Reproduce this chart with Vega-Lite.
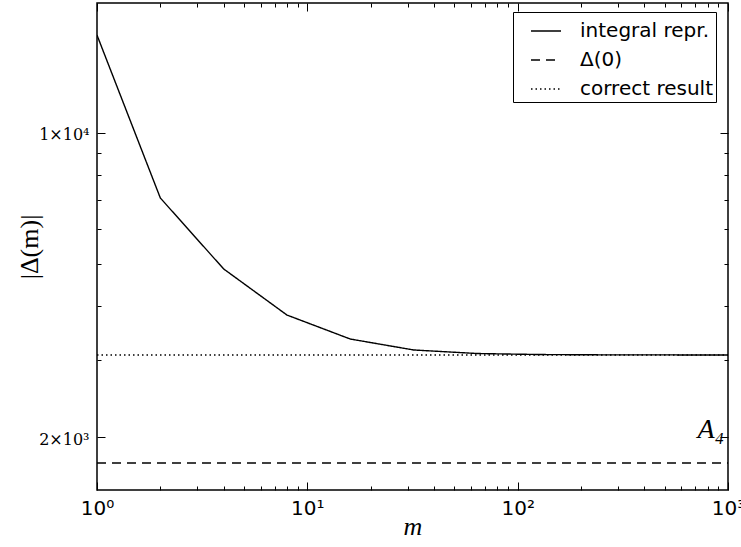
{
 "$schema": "https://vega.github.io/schema/vega-lite/v6.json",
 "width": 631, "height": 487,
 "autosize": {"type": "none"},
 "padding": {"left": 97, "top": 3, "right": 13, "bottom": 57},
 "background": "white",
 "config": {
   "view": {"stroke": "black", "strokeWidth": 1.5},
   "axis": {"domain": false, "grid": false, "tickColor": "black", "tickWidth": 1, "labelColor": "black", "titleColor": "black"}
 },
 "datasets": {
   "lines": [
     {"m": 1, "v": 16790, "series": "integral repr."},
     {"m": 2, "v": 7090, "series": "integral repr."},
     {"m": 4, "v": 4870, "series": "integral repr."},
     {"m": 8, "v": 3815, "series": "integral repr."},
     {"m": 16, "v": 3360, "series": "integral repr."},
     {"m": 32, "v": 3171, "series": "integral repr."},
     {"m": 64, "v": 3112, "series": "integral repr."},
     {"m": 128, "v": 3095, "series": "integral repr."},
     {"m": 256, "v": 3090, "series": "integral repr."},
     {"m": 512, "v": 3089, "series": "integral repr."},
     {"m": 1000, "v": 3088, "series": "integral repr."},
     {"m": 1, "v": 1743, "series": "Δ(0)"},
     {"m": 1000, "v": 1743, "series": "Δ(0)"},
     {"m": 1, "v": 3088, "series": "correct result"},
     {"m": 1000, "v": 3088, "series": "correct result"}
   ],
   "label": [{"m": 960, "v": 2075, "t": "A₄"}]
 },
 "layer": [
   {
     "data": {"name": "lines"},
     "mark": {"type": "line", "color": "black", "strokeWidth": 1.4, "clip": true},
     "encoding": {
       "x": {"field": "m", "type": "quantitative",
         "scale": {"type": "log", "domain": [1, 1000], "nice": false},
         "axis": {"orient": "bottom", "title": "m", "titleFont": "Liberation Serif", "titleFontStyle": "italic", "titleFontWeight": "normal", "titleFontSize": 26, "titlePadding": -9,
           "values": [1,2,3,4,5,6,7,8,9,10,20,30,40,50,60,70,80,90,100,200,300,400,500,600,700,800,900,1000],
           "tickSize": {"condition": {"test": "datum.value==1||datum.value==10||datum.value==100||datum.value==1000", "value": -8}, "value": -4},
           "labelExpr": "datum.value==1?'10⁰':datum.value==10?'10¹':datum.value==100?'10²':datum.value==1000?'10³':''",
           "labelFont": "DejaVu Sans", "labelFontSize": 20, "labelPadding": 16, "labelFlush": false, "labelOverlap": false}},
       "y": {"field": "v", "type": "quantitative",
         "scale": {"type": "log", "domain": [1511, 19900], "nice": false},
         "axis": {"orient": "left", "title": "|Δ(m)|", "titleFont": "Liberation Serif", "titleFontWeight": "normal", "titleFontSize": 26, "titlePadding": -4,
           "values": [2000,3000,4000,5000,6000,7000,8000,9000,10000],
           "tickSize": {"condition": {"test": "datum.value==2000||datum.value==10000", "value": -8}, "value": -4},
           "labelExpr": "datum.value==10000?'1×10⁴':datum.value==2000?'2×10³':''",
           "labelFont": "DejaVu Serif", "labelFontSize": 16, "labelPadding": 16, "labelBaseline": "middle", "labelOffset": 2, "labelOverlap": false}},
       "strokeDash": {"field": "series", "type": "nominal",
         "scale": {"domain": ["integral repr.", "Δ(0)", "correct result"], "range": [[1, 0], [9, 6], [1.5, 3]]},
         "legend": {"title": null, "orient": "none", "legendX": 416, "legendY": 9,
           "symbolType": "stroke", "symbolSize": 900, "symbolStrokeColor": "black", "symbolStrokeWidth": 1.4, "symbolOffset": 14,
           "labelExpr": "datum.label + '\u00a0\u00a0'", "labelLimit": 300,
           "labelFont": "DejaVu Sans", "labelFontSize": 20, "labelColor": "black", "labelOffset": 18,
           "strokeColor": "black", "fillColor": "white", "padding": 3, "rowPadding": 3, "cornerRadius": 0}}
     }
   },
   {
     "data": {"name": "label"},
     "mark": {"type": "text", "align": "right", "baseline": "middle", "font": "Liberation Serif", "fontStyle": "italic", "fontSize": 28, "color": "black"},
     "encoding": {
       "x": {"field": "m", "type": "quantitative",
         "scale": {"type": "log", "domain": [1, 1000], "nice": false},
         "axis": {"orient": "top", "title": null, "labels": false,
           "values": [1,2,3,4,5,6,7,8,9,10,20,30,40,50,60,70,80,90,100,200,300,400,500,600,700,800,900,1000],
           "tickSize": {"condition": {"test": "datum.value==1||datum.value==10||datum.value==100||datum.value==1000", "value": -8}, "value": -4}}},
       "y": {"field": "v", "type": "quantitative",
         "scale": {"type": "log", "domain": [1511, 19900], "nice": false},
         "axis": {"orient": "right", "title": null, "labels": false,
           "values": [2000,3000,4000,5000,6000,7000,8000,9000,10000],
           "tickSize": {"condition": {"test": "datum.value==2000||datum.value==10000", "value": -8}, "value": -4}}},
       "text": {"field": "t"}
     }
   }
 ],
 "resolve": {"axis": {"x": "independent", "y": "independent"}}
}
